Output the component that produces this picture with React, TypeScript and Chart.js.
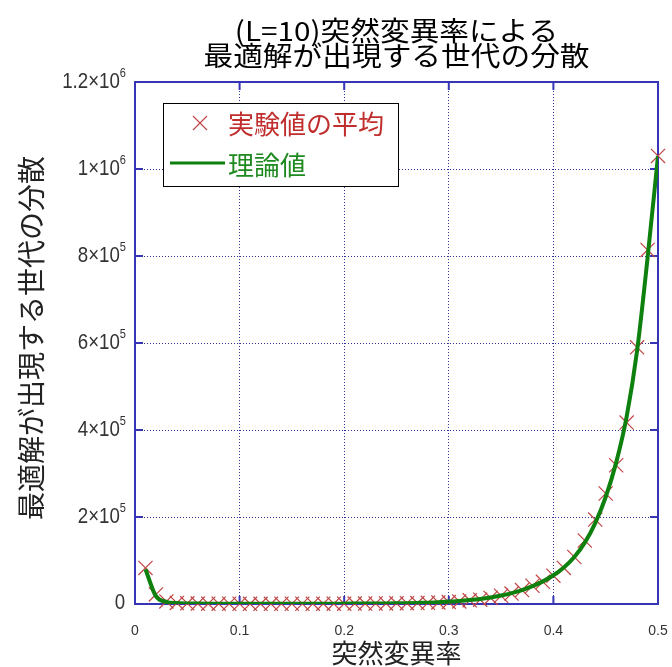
import { useEffect, useRef } from "react";
import { Chart, registerables } from "chart.js";

Chart.register(...registerables);

// Mutation rate (x) for each measured point
const rates = [
  0.01, 0.02, 0.03, 0.04, 0.05, 0.06, 0.07, 0.08, 0.09, 0.1,
  0.11, 0.12, 0.13, 0.14, 0.15, 0.16, 0.17, 0.18, 0.19, 0.2,
  0.21, 0.22, 0.23, 0.24, 0.25, 0.26, 0.27, 0.28, 0.29, 0.3,
  0.31, 0.32, 0.33, 0.34, 0.35, 0.36, 0.37, 0.38, 0.39, 0.4,
  0.41, 0.42, 0.43, 0.44, 0.45, 0.46, 0.47, 0.48, 0.49, 0.5,
];

// Averaged variance from the runs
const measuredVariance = [
  83000, 22000, 6000, 2500, 1500, 1000, 800, 700, 600, 600,
  500, 500, 500, 550, 600, 600, 650, 700, 750, 800,
  900, 1000, 1100, 1300, 1500, 1800, 2200, 2800, 3500, 4500,
  6000, 8500, 10000, 14000, 19000, 24000, 32000, 42000, 51000, 65000,
  83000, 108000, 146000, 194000, 254000, 319000, 417000, 590000, 814000, 1030000,
];

// Theoretical variance
const theoryVariance = [
  80000, 18000, 5000, 2200, 1300, 900, 700, 600, 550, 500,
  500, 500, 500, 520, 550, 600, 650, 700, 760, 850,
  950, 1050, 1200, 1400, 1650, 2000, 2500, 3100, 4000, 5500,
  7000, 9000, 11500, 15000, 19500, 25000, 32000, 41000, 52000, 66000,
  84000, 108000, 141000, 186000, 246000, 325000, 430000, 582000, 795000, 1030000,
];

const xTicks = [0, 0.1, 0.2, 0.3, 0.4, 0.5];
const yTicks = [0, 200000, 400000, 600000, 800000, 1000000, 1200000];

const titleLines = ["(L=10)突然変異率による", "最適解が出現する世代の分散"];
const xTitle = "突然変異率";
const yTitle = "最適解が出現する世代の分散";
const legendLabels = ["実験値の平均", "理論値"];

const CJK = '"Noto Sans CJK JP", "Noto Sans", sans-serif';
const LATIN = '"Liberation Sans", Arial, sans-serif';
const FRAME_BLUE = "#3535b5";
const GRID_BLUE = "#30309a";
const MARK_RED = "#bf4646";
const LINE_GREEN = "#0d800d";
const LABEL_GRAY = "#333333";

function drawCross(ctx: CanvasRenderingContext2D, x: number, y: number, h: number) {
  ctx.beginPath();
  ctx.moveTo(x - h, y - h);
  ctx.lineTo(x + h, y + h);
  ctx.moveTo(x - h, y + h);
  ctx.lineTo(x + h, y - h);
  ctx.stroke();
}

const framePlugin = {
  id: "matFrame",
  beforeDatasetsDraw(chart: any) {
    const { ctx, chartArea: a, scales } = chart;
    ctx.save();
    ctx.strokeStyle = FRAME_BLUE;
    ctx.lineWidth = 2;
    ctx.strokeRect(a.left, a.top, a.right - a.left, a.bottom - a.top);
    const len = 8;
    ctx.beginPath();
    for (const v of xTicks) {
      const px = scales.x.getPixelForValue(v);
      ctx.moveTo(px, a.bottom);
      ctx.lineTo(px, a.bottom - len);
      ctx.moveTo(px, a.top);
      ctx.lineTo(px, a.top + len);
    }
    for (const v of yTicks) {
      const py = scales.y.getPixelForValue(v);
      ctx.moveTo(a.left, py);
      ctx.lineTo(a.left + len, py);
      ctx.moveTo(a.right, py);
      ctx.lineTo(a.right - len, py);
    }
    ctx.stroke();
    ctx.restore();
  },
  afterDraw(chart: any) {
    const { ctx, chartArea: a, scales } = chart;
    const cx = (a.left + a.right) / 2;
    ctx.save();

    // two-line title, slightly widened glyphs
    ctx.fillStyle = "#000000";
    ctx.font = `27px ${CJK}`;
    ctx.textAlign = "center";
    ctx.textBaseline = "middle";
    titleLines.forEach((line, i) => {
      ctx.save();
      ctx.translate(cx, 31 + i * 25);
      ctx.scale(1.1, 1);
      ctx.fillText(line, 0, 0);
      ctx.restore();
    });

    ctx.fillStyle = LABEL_GRAY;

    // x tick labels
    ctx.font = `14px ${LATIN}`;
    ctx.textAlign = "center";
    ctx.textBaseline = "middle";
    for (const v of xTicks) {
      ctx.fillText(String(v), scales.x.getPixelForValue(v), a.bottom + 27);
    }

    // y tick labels as a×10^n, in a narrowed face
    const xRight = a.left - 9;
    const squeeze = 0.85;
    for (const v of yTicks) {
      const py = scales.y.getPixelForValue(v);
      ctx.save();
      ctx.translate(xRight, py);
      ctx.scale(squeeze, 1);
      ctx.textAlign = "right";
      ctx.textBaseline = "middle";
      if (v === 0) {
        ctx.font = `22px ${LATIN}`;
        ctx.fillText("0", -1, -1);
        ctx.restore();
        continue;
      }
      const exp = Math.floor(Math.log10(v) + 1e-9);
      const mant = Number((v / Math.pow(10, exp)).toFixed(2));
      ctx.font = `13px ${LATIN}`;
      const sup = String(exp);
      const sw = ctx.measureText(sup).width;
      ctx.fillText(sup, 0, -9);
      ctx.font = `22px ${LATIN}`;
      ctx.fillText(`${mant}×10`, -sw, 0);
      ctx.restore();
    }

    // axis titles
    ctx.fillStyle = "#222222";
    ctx.font = `26px ${CJK}`;
    ctx.textAlign = "center";
    ctx.textBaseline = "middle";
    ctx.fillText(xTitle, cx, a.bottom + 49);

    ctx.save();
    ctx.translate(31, (a.top + a.bottom) / 2 - 5);
    ctx.rotate(-Math.PI / 2);
    ctx.font = `28px ${CJK}`;
    ctx.fillText(yTitle, 0, 0);
    ctx.restore();

    // legend box
    const bx = a.left + 28;
    const by = a.top + 21;
    const bw = 235;
    const bh = 83;
    ctx.fillStyle = "#ffffff";
    ctx.fillRect(bx, by, bw, bh);
    ctx.strokeStyle = "#000000";
    ctx.lineWidth = 1;
    ctx.strokeRect(bx + 0.5, by + 0.5, bw, bh);

    ctx.strokeStyle = MARK_RED;
    ctx.lineWidth = 1.2;
    drawCross(ctx, bx + 37, by + 20, 7);
    ctx.strokeStyle = LINE_GREEN;
    ctx.lineWidth = 3;
    ctx.beginPath();
    ctx.moveTo(bx + 7, by + 60);
    ctx.lineTo(bx + 62, by + 60);
    ctx.stroke();

    ctx.font = `26px ${CJK}`;
    ctx.textAlign = "left";
    ctx.textBaseline = "middle";
    ctx.fillStyle = "#c02e2e";
    ctx.fillText(legendLabels[0], bx + 65, by + 21);
    ctx.fillStyle = "#1f8a1f";
    ctx.fillText(legendLabels[1], bx + 65, by + 62);

    ctx.restore();
  },
};

export default function App() {
  const canvasRef = useRef<HTMLCanvasElement | null>(null);

  useEffect(() => {
    const canvas = canvasRef.current;
    if (!canvas) return;
    const chart = new Chart(canvas, {
      type: "scatter",
      data: {
        datasets: [
          {
            type: "line",
            label: legendLabels[1],
            data: rates.map((r, i) => ({ x: r, y: theoryVariance[i] })),
            borderColor: LINE_GREEN,
            borderWidth: 4,
            pointRadius: 0,
            fill: false,
            cubicInterpolationMode: "monotone",
            order: 0,
          },
          {
            type: "scatter",
            label: legendLabels[0],
            data: rates.map((r, i) => ({ x: r, y: measuredVariance[i] })),
            pointStyle: "crossRot",
            pointRadius: 10,
            borderColor: MARK_RED,
            backgroundColor: MARK_RED,
            borderWidth: 1.2,
            clip: false,
            order: 1,
          },
        ],
      } as any,
      options: {
        responsive: false,
        animation: false,
        events: [],
        layout: { padding: { left: 135, right: 14, top: 82, bottom: 63 } },
        plugins: {
          legend: { display: false },
          tooltip: { enabled: false },
          title: { display: false },
        },
        scales: {
          x: {
            type: "linear",
            min: 0,
            max: 0.5,
            ticks: { display: false, stepSize: 0.1 },
            grid: { color: GRID_BLUE, lineWidth: 1, drawTicks: false },
            border: { display: false, dash: [1, 2] },
          },
          y: {
            type: "linear",
            min: 0,
            max: 1200000,
            ticks: { display: false, stepSize: 200000 },
            grid: { color: GRID_BLUE, lineWidth: 1, drawTicks: false },
            border: { display: false, dash: [1, 2] },
          },
        },
      } as any,
      plugins: [framePlugin],
    });
    return () => chart.destroy();
  }, []);

  return (
    <div style={{ position: "absolute", left: 0, top: 0, width: 672, height: 667, background: "#ffffff" }}>
      <canvas ref={canvasRef} width={672} height={667} />
    </div>
  );
}
